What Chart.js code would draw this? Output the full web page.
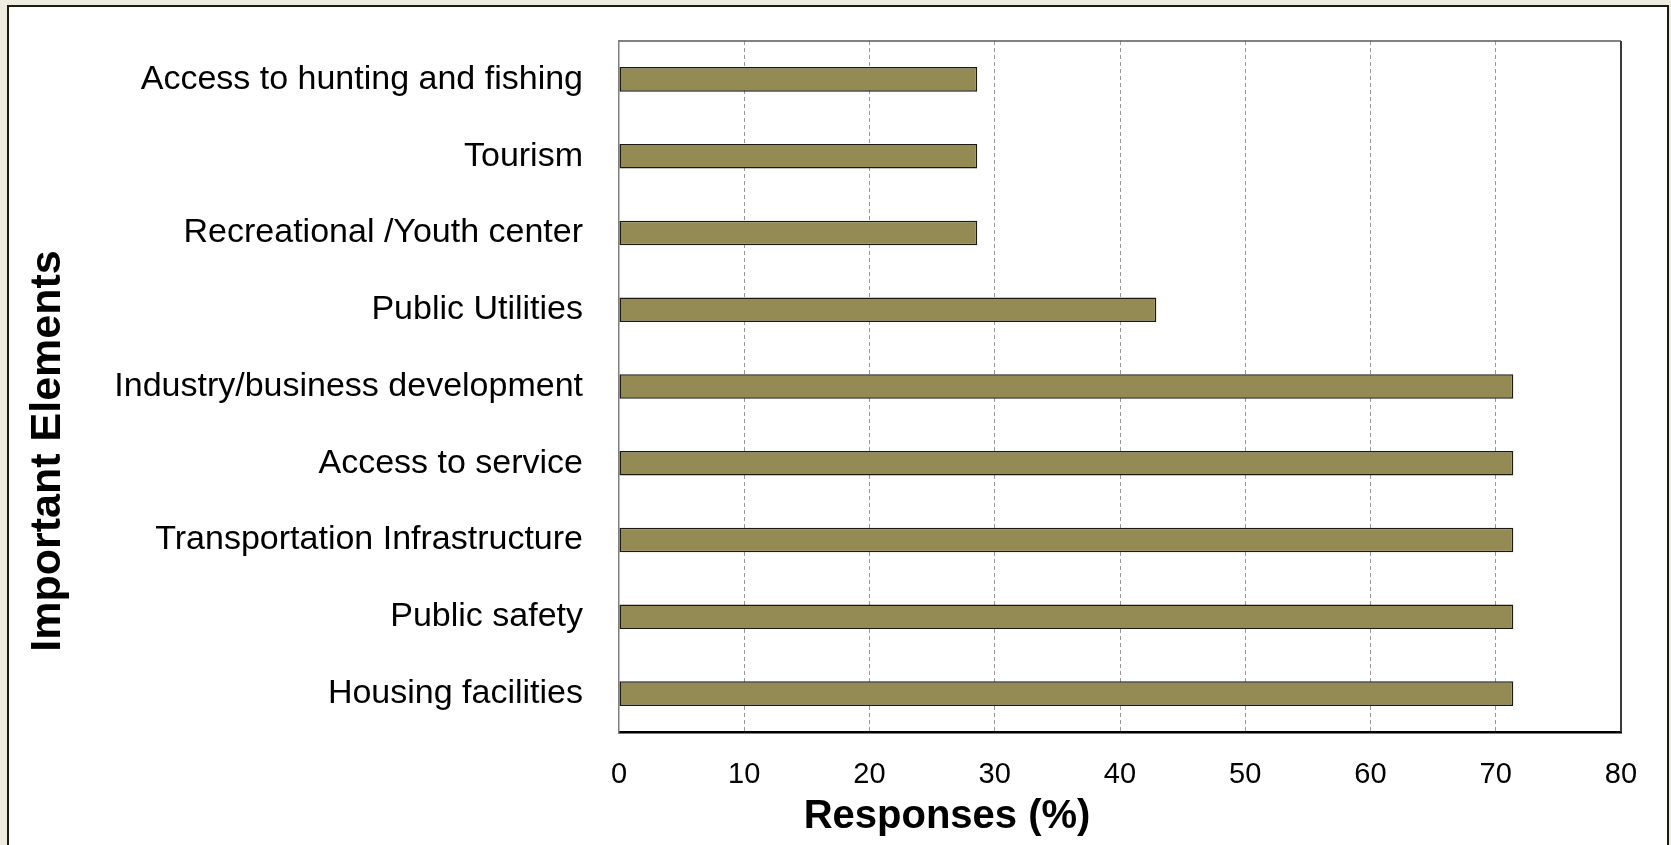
<!DOCTYPE html>
<html lang="en">
<head>
    <meta charset="UTF-8">
    <meta name="viewport" content="width=device-width, initial-scale=1.0">
    <title>Important Elements</title>
    <style>
        html, body { margin: 0; padding: 0; background: #eeece1; overflow: hidden; }
        .frame {
            position: absolute; left: 7px; top: 5px; width: 1662px; height: 900px;
            box-sizing: border-box; border: 2px solid #1d1b10; background: #fff;
        }
        #myChart { position: absolute; left: 0; top: 0; }
    </style>
</head>
<body>
    <div class="frame"></div>
    <canvas id="myChart" width="1671" height="845"></canvas>

    <script src="https://cdn.jsdelivr.net/npm/chart.js"></script>
    <script>
    const categories = [
        'Access to hunting and fishing',
        'Tourism',
        'Recreational /Youth center',
        'Public Utilities',
        'Industry/business development',
        'Access to service',
        'Transportation Infrastructure',
        'Public safety',
        'Housing facilities'
    ];
    const responses = [28.6, 28.6, 28.6, 42.9, 71.4, 71.4, 71.4, 71.4, 71.4];
    const xMin = 0, xMax = 80, xStep = 10;
    const xTitle = 'Responses (%)';
    const yTitle = 'Important Elements';

    const FONT = '"Liberation Sans", Arial, sans-serif';

    // top/right plot edges and the two axis titles
    const frameAndTitles = {
        id: 'frameAndTitles',
        afterDraw(chart) {
            const { ctx, chartArea: a } = chart;
            ctx.save();
            ctx.lineWidth = 1.5;
            ctx.strokeStyle = '#595959';
            ctx.beginPath();
            ctx.moveTo(a.left, a.top);
            ctx.lineTo(a.right, a.top);
            ctx.stroke();
            ctx.lineWidth = 2;
            ctx.strokeStyle = '#3a3a3a';
            ctx.beginPath();
            ctx.moveTo(a.right, a.top);
            ctx.lineTo(a.right, a.bottom);
            ctx.stroke();

            ctx.fillStyle = '#000';
            ctx.textAlign = 'center';
            ctx.textBaseline = 'alphabetic';
            ctx.font = 'bold 40px ' + FONT;
            ctx.fillText(xTitle, 947, 828);

            ctx.font = 'bold 43px ' + FONT;
            ctx.translate(60, 451);
            ctx.rotate(-Math.PI / 2);
            ctx.fillText(yTitle, 0, 0);
            ctx.restore();
        }
    };

    const ctx = document.getElementById('myChart');
    new Chart(ctx, {
        type: 'bar',
        data: {
            labels: categories,
            datasets: [{
                data: responses,
                backgroundColor: '#948a54',
                borderColor: '#1c1a10',
                borderWidth: 1.5,
                borderSkipped: false,
                categoryPercentage: 1,
                barPercentage: 0.32
            }]
        },
        options: {
            responsive: false,
            animation: false,
            indexAxis: 'y',
            layout: { padding: { top: 41, right: 50, bottom: 0, left: 0 } },
            plugins: {
                legend: { display: false },
                tooltip: { enabled: false }
            },
            scales: {
                x: {
                    min: xMin,
                    max: xMax,
                    ticks: {
                        stepSize: xStep,
                        padding: 26,
                        color: '#000',
                        font: { family: FONT, size: 29 }
                    },
                    grid: {
                        drawTicks: false,
                        lineWidth: 1,
                        color: c => (c.tick && (c.tick.value === xMin || c.tick.value === xMax)) ? 'rgba(0,0,0,0)' : '#999999'
                    },
                    border: { color: '#000', width: 2.5, dash: [4, 3] },
                    afterFit: s => { s.height = 113; s.paddingLeft = 0; s.paddingRight = 0; }
                },
                y: {
                    ticks: {
                        padding: 36,
                        color: '#000',
                        font: { family: FONT, size: 34 }
                    },
                    grid: { display: false, drawTicks: false },
                    border: { color: '#7f7f7f', width: 1.5 },
                    afterFit: s => { s.width = 619; s.paddingTop = 0; s.paddingBottom = 0; }
                }
            }
        },
        plugins: [frameAndTitles]
    });
    </script>
</body>
</html>
